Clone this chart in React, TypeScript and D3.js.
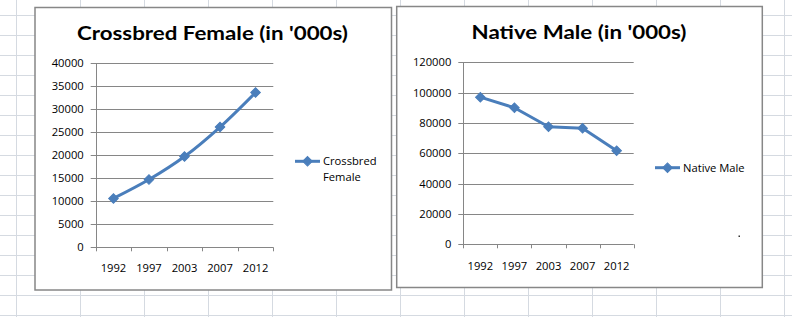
import React from "react";
import { scaleLinear, scaleBand, line, curveCatmullRom, curveLinear, symbol, symbolSquare, range } from "d3";

const years = ["1992", "1997", "2003", "2007", "2012"];
const crossbredFemale = [10600, 14700, 19700, 26100, 33600];
const nativeMale = [97000, 90000, 77500, 76500, 61700];
const crossbredTicks = [0, 5000, 10000, 15000, 20000, 25000, 30000, 35000, 40000];
const nativeTicks = [0, 20000, 40000, 60000, 80000, 100000, 120000];

const W = 792;
const H = 317;
const BLUE = "#4a7ebb";
const FONT = "Lato, 'Open Sans', sans-serif";
const SMALL = "'Open Sans', Lato, sans-serif";

// excel sheet gridlines behind the charts
const SheetGrid = () => {
  const cols = range(16, W, 64);
  const rows = range(15, H, 20);
  return (
    <g stroke="#d5dae1" strokeWidth={1}>
      {cols.map((x) => (
        <line key={"c" + x} x1={x + 0.5} x2={x + 0.5} y1={0} y2={H} />
      ))}
      {rows.map((y) => (
        <line key={"r" + y} x1={0} x2={W} y1={y + 0.5} y2={y + 0.5} />
      ))}
    </g>
  );
};

type PanelProps = {
  frame: { x: number; y: number; w: number; h: number };
  plot: { x0: number; x1: number; top: number; bottom: number };
  title: string;
  titleBox: { cx: number; y: number; w: number };
  values: number[];
  ticks: number[];
  smooth: boolean;
  legend: { x: number; y: number; lines: string[] };
  xLabelY: number;
};

const Panel = (p: PanelProps) => {
  const x = scaleBand<string>().domain(years).range([p.plot.x0, p.plot.x1]);
  const y = scaleLinear()
    .domain([0, p.ticks[p.ticks.length - 1]])
    .range([p.plot.bottom, p.plot.top]);
  const cx = (d: string) => (x(d) as number) + x.bandwidth() / 2;

  const path = line<number>()
    .x((_, i) => cx(years[i]))
    .y((v) => y(v))
    .curve(p.smooth ? curveCatmullRom.alpha(0.5) : curveLinear)(p.values);

  const marker = symbol().type(symbolSquare).size(46)() as string;
  const edges = [...years.map((d) => x(d) as number), p.plot.x1];

  return (
    <g>
      <rect x={p.frame.x} y={p.frame.y} width={p.frame.w} height={p.frame.h} fill="#fff" stroke="#878787" strokeWidth={1.5} />
      <text
        x={p.titleBox.cx}
        y={p.titleBox.y}
        textAnchor="middle"
        fontFamily={FONT}
        fontWeight="bold"
        fontSize={19.5}
        textLength={p.titleBox.w}
        lengthAdjust="spacingAndGlyphs"
      >
        {p.title}
      </text>

      {/* gridlines + y ticks */}
      {p.ticks.map((t) => (
        <g key={t}>
          <line x1={p.plot.x0 - 5} x2={p.plot.x1} y1={Math.round(y(t)) + 0.5} y2={Math.round(y(t)) + 0.5} stroke="#868686" />
          <text x={p.plot.x0 - 12} y={y(t) + 4} textAnchor="end" fontFamily={SMALL} fontSize={11.2} fill="#000">
            {t}
          </text>
        </g>
      ))}
      <line x1={Math.round(p.plot.x0) + 0.5} x2={Math.round(p.plot.x0) + 0.5} y1={p.plot.top} y2={p.plot.bottom} stroke="#868686" />
      {edges.map((e, i) => (
        <line key={i} x1={Math.round(e) + 0.5} x2={Math.round(e) + 0.5} y1={p.plot.bottom} y2={p.plot.bottom + 4} stroke="#868686" />
      ))}
      {years.map((d) => (
        <text key={d} x={cx(d)} y={p.xLabelY} textAnchor="middle" fontFamily={SMALL} fontSize={11.2}>
          {d}
        </text>
      ))}

      <path d={path as string} fill="none" stroke={BLUE} strokeWidth={3} strokeLinejoin="round" />
      {p.values.map((v, i) => (
        <path key={i} d={marker} transform={`translate(${cx(years[i])},${y(v)}) rotate(45)`} fill={BLUE} stroke={BLUE} strokeWidth={1} />
      ))}

      {/* legend */}
      <line x1={p.legend.x} x2={p.legend.x + 25} y1={p.legend.y} y2={p.legend.y} stroke={BLUE} strokeWidth={3} />
      <path d={marker} transform={`translate(${p.legend.x + 12.5},${p.legend.y}) rotate(45)`} fill={BLUE} stroke={BLUE} />
      {p.legend.lines.map((s, i) => (
        <text key={s} x={p.legend.x + 28} y={p.legend.y + 4 + i * 16} fontFamily={SMALL} fontSize={11.2}>
          {s}
        </text>
      ))}
    </g>
  );
};

const App = () => {
  return (
    <svg width={W} height={H} style={{ position: "absolute", left: 0, top: 0, background: "#fff" }}>
      <SheetGrid />
      <Panel
        frame={{ x: 35, y: 7.5, w: 356.5, h: 282.5 }}
        plot={{ x0: 95.7, x1: 273.3, top: 63, bottom: 247.3 }}
        title="Crossbred Female (in '000s)"
        titleBox={{ cx: 212.5, y: 39.5, w: 271 }}
        values={crossbredFemale}
        ticks={crossbredTicks}
        smooth={true}
        legend={{ x: 295, y: 161.3, lines: ["Crossbred", "Female"] }}
        xLabelY={272}
      />
      <Panel
        frame={{ x: 396.7, y: 6.5, w: 365.6, h: 281 }}
        plot={{ x0: 463.3, x1: 633.7, top: 62.3, bottom: 244.3 }}
        title="Native Male (in '000s)"
        titleBox={{ cx: 579, y: 38.5, w: 215 }}
        values={nativeMale}
        ticks={nativeTicks}
        smooth={false}
        legend={{ x: 655, y: 167.7, lines: ["Native Male"] }}
        xLabelY={270}
      />
      <rect x={738.5} y={235.5} width={1.5} height={1.5} fill="#333" />
    </svg>
  );
};

export default App;
